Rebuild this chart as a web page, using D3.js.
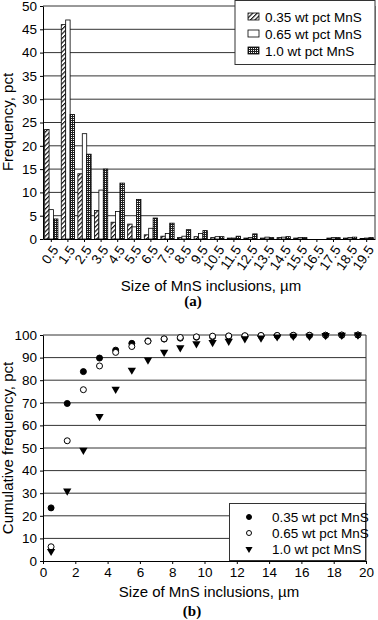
<!DOCTYPE html>
<html>
<head>
<meta charset="utf-8">
<script src="https://cdn.jsdelivr.net/npm/d3@7"></script>
<style>
  body { margin: 0; background: #fff; }
  svg { display: block; font-family: "Liberation Sans", Arial, sans-serif; }
  .grid line { stroke: #333; stroke-width: 1; }
  .axis path, .axis line { stroke: #000; }
  .axis text { font-size: 13.5px; fill: #000; font-family: "Liberation Sans", Arial, sans-serif; }
</style>
</head>
<body>
<div id="root"></div>
<script>
// size classes (um), shared by both panels
const sizes = ["0.5","1.5","2.5","3.5","4.5","5.5","6.5","7.5","8.5","9.5",
               "10.5","11.5","12.5","13.5","14.5","15.5","16.5","17.5","18.5","19.5"];
const seriesNames = ["0.35 wt pct MnS", "0.65 wt pct MnS", "1.0 wt pct MnS"];

// (a) frequency, pct
const freq035 = [23.5, 46.0, 14.0, 6.1, 3.6, 3.2, 0.9, 0.6, 0.3, 0.5, 0.3, 0.2, 0.2, 0.2, 0.3, 0.2, 0, 0.2, 0.2, 0.1];
const freq065 = [6.3, 47.0, 22.6, 10.5, 5.9, 2.6, 2.3, 1.2, 0.6, 1.2, 0.5, 0.2, 0.3, 0.4, 0.4, 0.3, 0, 0.3, 0.3, 0.2];
const freq10  = [4.3, 26.7, 18.2, 15.0, 12.0, 8.5, 4.5, 3.4, 2.0, 1.8, 0.5, 0.6, 1.1, 0.3, 0.5, 0.3, 0, 0.3, 0.4, 0.3];

// (b) cumulative frequency, pct
const cum035 = [23.5, 69.7, 83.8, 89.8, 93.3, 96.3, 97.4, 98.2, 98.6, 99.0, 99.2, 99.4, 99.5, 99.6, 99.7, 99.8, 99.8, 99.9, 99.9, 100];
const cum065 = [6.3, 53.2, 75.8, 86.3, 92.3, 94.9, 97.2, 98.3, 98.9, 99.2, 99.5, 99.6, 99.7, 99.8, 99.8, 99.9, 99.9, 99.9, 100, 100];
const cum10  = [4.3, 31.0, 49.0, 64.0, 76.0, 84.5, 89.0, 92.4, 94.4, 96.2, 96.7, 97.3, 98.4, 98.7, 99.2, 99.5, 99.5, 99.8, 99.9, 100];

const yTicksA = d3.range(0, 51, 5);
const yTicksB = d3.range(0, 101, 10);
const xTicksB = d3.range(0, 21, 2);

const svg = d3.select("#root").append("svg")
    .attr("width", 378)
    .attr("height", 620);

// fill patterns
const defs = svg.append("defs");
const hatch = defs.append("pattern")
    .attr("id", "hatch")
    .attr("patternUnits", "userSpaceOnUse")
    .attr("width", 3.2).attr("height", 3.2)
    .attr("patternTransform", "rotate(45)");
hatch.append("rect").attr("width", 3.2).attr("height", 3.2).attr("fill", "#fff");
hatch.append("line").attr("x1", 0.6).attr("x2", 0.6).attr("y1", 0).attr("y2", 3.2)
    .attr("stroke", "#000").attr("stroke-width", 1.1);

const dots = defs.append("pattern")
    .attr("id", "dots")
    .attr("patternUnits", "userSpaceOnUse")
    .attr("width", 2).attr("height", 2);
dots.append("rect").attr("width", 2).attr("height", 2).attr("fill", "#222");
dots.append("rect").attr("x", 1).attr("y", 1).attr("width", 1).attr("height", 1).attr("fill", "#fff");

const fills = ["url(#hatch)", "#fff", "url(#dots)"];

// ---------- panel (a) ----------
const a = { left: 43, right: 375, top: 6, bottom: 239 };

const xA = d3.scaleBand().domain(sizes).range([a.left, a.right])
    .paddingInner(0.2).paddingOuter(0.1);
const xSub = d3.scaleBand().domain(seriesNames).range([0, xA.bandwidth()]);
const yA = d3.scaleLinear().domain([0, 50]).range([a.bottom, a.top]);

svg.append("g").attr("class", "grid")
  .selectAll("line").data(yTicksA.filter(d => d > 0)).join("line")
    .attr("x1", a.left).attr("x2", a.right)
    .attr("y1", d => yA(d)).attr("y2", d => yA(d));

svg.append("line")
    .attr("x1", a.right).attr("x2", a.right)
    .attr("y1", yA(50)).attr("y2", yA(0))
    .attr("stroke", "#333");

const freqData = [freq035, freq065, freq10];
const groups = svg.append("g").selectAll("g")
  .data(freqData).join("g")
    .attr("fill", (d, i) => fills[i]);

groups.selectAll("rect")
  .data((vals, i) => vals.map((v, j) => ({ v: v, c: sizes[j], s: seriesNames[i] })))
  .join("rect")
    .attr("x", d => xA(d.c) + xSub(d.s))
    .attr("y", d => yA(d.v))
    .attr("width", xSub.bandwidth())
    .attr("height", d => yA(0) - yA(d.v))
    .attr("stroke", "#000")
    .attr("stroke-width", 0.8)
    .style("display", d => d.v > 0 ? null : "none");

svg.append("g").attr("class", "axis")
    .attr("transform", `translate(${a.left},0)`)
    .call(d3.axisLeft(yA).tickValues(yTicksA).tickSize(3).tickSizeOuter(0));

const xAxisA = svg.append("g").attr("class", "axis")
    .attr("transform", `translate(0,${a.bottom})`)
    .call(d3.axisBottom(xA).tickSize(3).tickSizeOuter(0));
xAxisA.selectAll("text")
    .attr("x", 0).attr("y", 0)
    .attr("text-anchor", "end")
    .attr("dy", "0.35em")
    .attr("transform", "translate(4,8) rotate(-55)");

svg.append("text")
    .attr("transform", `translate(13,122) rotate(-90)`)
    .attr("text-anchor", "middle")
    .style("font-size", "15px")
    .text("Frequency, pct");

svg.append("text")
    .attr("x", 211).attr("y", 291)
    .attr("text-anchor", "middle")
    .style("font-size", "15px")
    .text("Size of MnS inclusions, \u00b5m");

svg.append("text")
    .attr("x", 193).attr("y", 306)
    .attr("text-anchor", "middle")
    .style("font-family", "'Liberation Serif', 'Times New Roman', serif")
    .style("font-weight", "bold")
    .style("font-size", "15px")
    .text("(a)");

// legend (a)
const legA = svg.append("g");
legA.append("rect")
    .attr("x", 235).attr("y", 0.5).attr("width", 140).attr("height", 64)
    .attr("fill", "#fff").attr("stroke", "#333");
const legAItems = legA.selectAll("g").data(seriesNames).join("g")
    .attr("transform", (d, i) => `translate(248,${17 + i * 17})`);
legAItems.append("rect")
    .attr("x", 0).attr("y", -4).attr("width", 11).attr("height", 7)
    .attr("fill", (d, i) => fills[i])
    .attr("stroke", "#000").attr("stroke-width", 0.8);
legAItems.append("text")
    .attr("x", 17).attr("y", 0).attr("dy", "0.35em")
    .style("font-size", "13.5px")
    .text(d => d);

// ---------- panel (b) ----------
const b = { left: 43, right: 366, top: 335, bottom: 561 };
const xB = d3.scaleLinear().domain([0, 20]).range([b.left, b.right]);
const yB = d3.scaleLinear().domain([0, 100]).range([b.bottom, b.top]);

svg.append("g").attr("class", "grid")
  .selectAll("line").data(yTicksB.filter(d => d > 0)).join("line")
    .attr("x1", b.left).attr("x2", b.right)
    .attr("y1", d => yB(d)).attr("y2", d => yB(d));

svg.append("line")
    .attr("x1", b.right).attr("x2", b.right)
    .attr("y1", yB(100)).attr("y2", yB(0))
    .attr("stroke", "#333");

svg.append("g").attr("class", "axis")
    .attr("transform", `translate(${b.left},0)`)
    .call(d3.axisLeft(yB).tickValues(yTicksB).tickSize(3).tickSizeOuter(0));

svg.append("g").attr("class", "axis")
    .attr("transform", `translate(0,${b.bottom})`)
    .call(d3.axisBottom(xB).tickValues(xTicksB).tickSize(3).tickSizeOuter(0));

const mid = sizes.map(Number);
const tri = d3.symbol().type(d3.symbolTriangle).size(30);

function drawMarkers(vals, kind) {
  const g = svg.append("g");
  const pts = vals.map((v, i) => ({ x: mid[i], y: v }));
  if (kind === "tri") {
    g.selectAll("path").data(pts).join("path")
      .attr("d", tri)
      .attr("transform", d => `translate(${xB(d.x)},${yB(d.y)}) rotate(180)`)
      .attr("fill", "#000");
  } else {
    g.selectAll("circle").data(pts).join("circle")
      .attr("cx", d => xB(d.x)).attr("cy", d => yB(d.y))
      .attr("r", 3)
      .attr("fill", kind === "open" ? "#fff" : "#000")
      .attr("stroke", "#000").attr("stroke-width", 1);
  }
}
drawMarkers(cum035, "filled");
drawMarkers(cum065, "open");
drawMarkers(cum10, "tri");

svg.append("text")
    .attr("transform", `translate(13,448) rotate(-90)`)
    .attr("text-anchor", "middle")
    .style("font-size", "15px")
    .text("Cumulative frequency, pct");

svg.append("text")
    .attr("x", 209).attr("y", 597)
    .attr("text-anchor", "middle")
    .style("font-size", "15px")
    .text("Size of MnS inclusions, \u00b5m");

svg.append("text")
    .attr("x", 192).attr("y", 616)
    .attr("text-anchor", "middle")
    .style("font-family", "'Liberation Serif', 'Times New Roman', serif")
    .style("font-weight", "bold")
    .style("font-size", "15px")
    .text("(b)");

// legend (b)
const legB = svg.append("g");
legB.append("rect")
    .attr("x", 229.5).attr("y", 503.5).attr("width", 136).attr("height", 57)
    .attr("fill", "#fff").attr("stroke", "#333");
const legBItems = legB.selectAll("g").data(seriesNames).join("g")
    .attr("transform", (d, i) => `translate(249,${517 + i * 16})`);
legBItems.each(function(d, i) {
  const g = d3.select(this);
  if (i === 2) {
    g.append("path").attr("d", d3.symbol().type(d3.symbolTriangle).size(22))
      .attr("transform", "rotate(180)").attr("fill", "#000");
  } else {
    g.append("circle").attr("r", 2.5)
      .attr("fill", i === 0 ? "#000" : "#fff")
      .attr("stroke", "#000");
  }
});
legBItems.append("text")
    .attr("x", 23).attr("y", 0).attr("dy", "0.35em")
    .style("font-size", "13.5px")
    .text(d => d);
</script>
</body>
</html>
